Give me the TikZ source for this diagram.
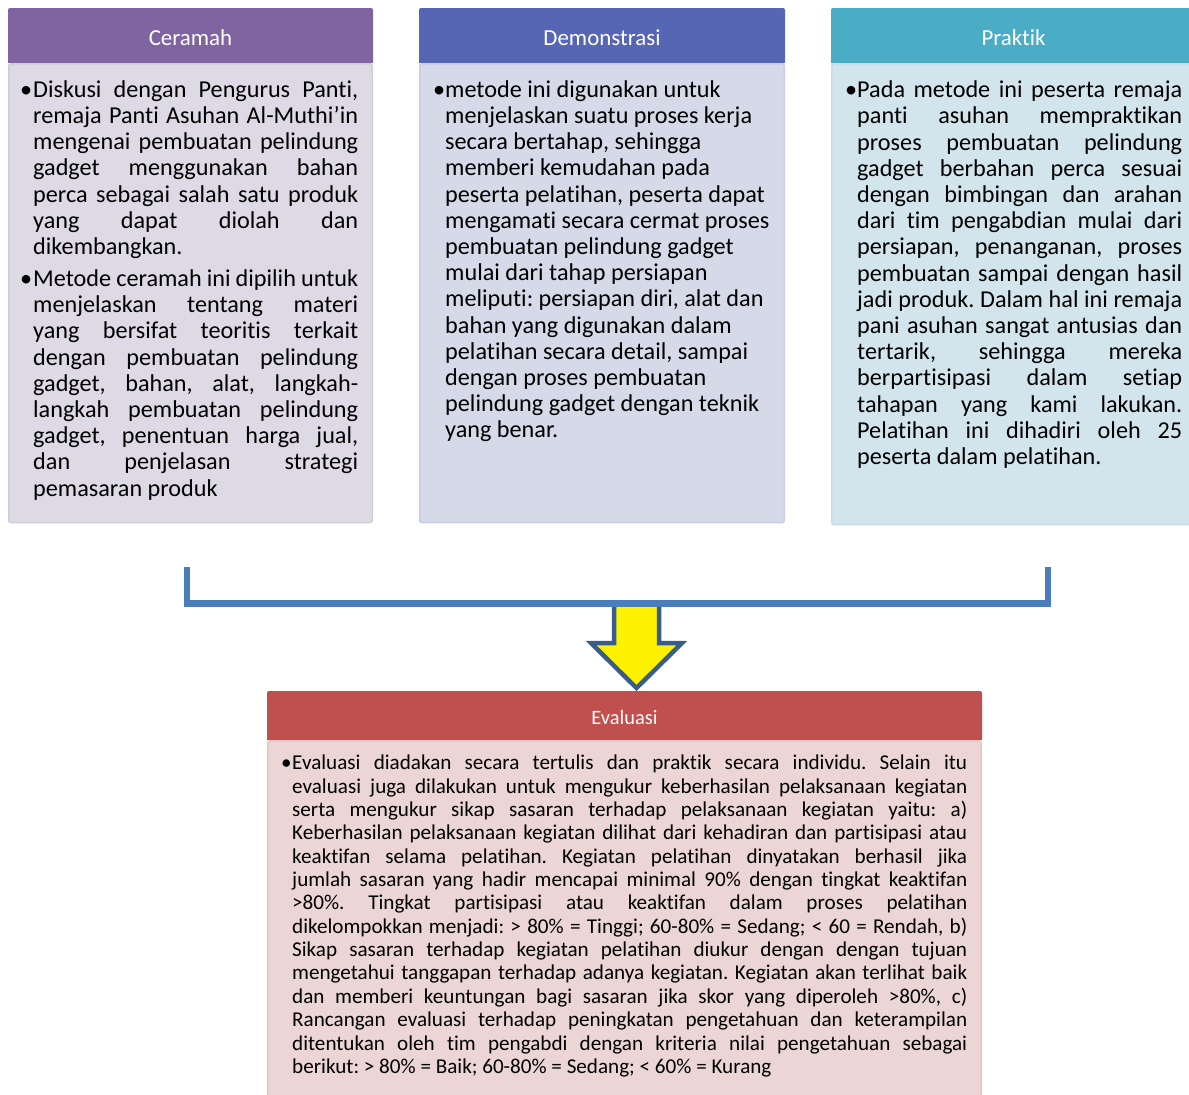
\documentclass[tikz,border=0pt]{standalone}
\usepackage{fontspec}
\setmainfont{Carlito}[Ligatures=NoCommon]
\frenchspacing
\definecolor{cerHead}{HTML}{8064A2}
\definecolor{cerBody}{HTML}{DEDAE5}
\definecolor{cerLine}{HTML}{D0CBD9}
\definecolor{demHead}{HTML}{5766B4}
\definecolor{demBody}{HTML}{D6D9E8}
\definecolor{demLine}{HTML}{C9CDE1}
\definecolor{praHead}{HTML}{4BACC6}
\definecolor{praBody}{HTML}{D3E5EC}
\definecolor{praLine}{HTML}{C6DCE5}
\definecolor{evaHead}{HTML}{C0504D}
\definecolor{evaBody}{HTML}{EBD5D5}
\definecolor{evaLine}{HTML}{E2C6C6}
\definecolor{brk}{HTML}{4A7EBB}
\definecolor{arrLine}{HTML}{385D8A}
\newlength\tw
\newlength\bw
\newcommand\bulJ[1]{\makebox[\bw][l]{•}\makebox[\tw][s]{#1}}
\newcommand\bulL[1]{\makebox[\bw][l]{•}#1}
\newcommand\lnJ[1]{\hspace*{\bw}\makebox[\tw][s]{#1}}
\newcommand\lnL[1]{\hspace*{\bw}#1}
\tikzset{
  headbox/.style={rounded corners=2bp, draw=none},
  bodybox/.style={rounded corners=2bp, line width=1.5bp},
  headtext/.style={text=white, inner sep=0, font=\fontsize{23}{26}\selectfont},
  bodytext/.style={anchor=north west, inner sep=0, align=left, text=black},
  bigtext/.style={bodytext, font=\fontsize{24.3}{26.3}\selectfont},
  smalltext/.style={bodytext, font=\fontsize{21.2}{23.45}\selectfont},
  widths/.style 2 args={execute at begin node={\global\tw=#1bp\global\bw=#2bp}},
  bracket/.style={draw=brk, line width=6.5bp},
  downarrow/.style={fill=yellow, draw=arrLine, line width=4.5bp, line join=miter},
}
\begin{document}
\begin{tikzpicture}[x=1bp, y=-1bp]
\useasboundingbox (0,0) rectangle (1189,1095);

% Ceramah
\fill[cerHead, headbox] (8,8) rectangle (373,63);
\draw[bodybox, fill=cerBody, draw=cerLine] (8.75,63.75) rectangle (372.25,522.5);
\fill[cerHead] (8,60) rectangle (373,63);
\node[headtext] (hCer) at (190.5,37.5) {Ceramah};
\node[bigtext, widths={325}{13}] (tCer) at (20,79) {\rule{0pt}{18bp}%
\bulJ{Diskusi dengan Pengurus Panti,}\\
\lnJ{remaja Panti Asuhan Al-Muthi’in}\\
\lnJ{mengenai pembuatan pelindung}\\
\lnJ{gadget menggunakan bahan}\\
\lnJ{perca sebagai salah satu produk}\\
\lnJ{yang dapat diolah dan}\\
\lnL{dikembangkan.}\\[5.8bp]
\bulJ{Metode ceramah ini dipilih untuk}\\
\lnJ{menjelaskan tentang materi}\\
\lnJ{yang bersifat teoritis terkait}\\
\lnJ{dengan pembuatan pelindung}\\
\lnJ{gadget, bahan, alat, langkah-}\\
\lnJ{langkah pembuatan pelindung}\\
\lnJ{gadget, penentuan harga jual,}\\
\lnJ{dan penjelasan strategi}\\
\lnL{pemasaran produk}};

% Demonstrasi
\fill[demHead, headbox] (419,8) rectangle (785,63);
\draw[bodybox, fill=demBody, draw=demLine] (419.75,63.75) rectangle (784.25,522.5);
\fill[demHead] (419,60) rectangle (785,63);
\node[headtext] (hDem) at (602,37.5) {Demonstrasi};
\node[bigtext, widths={320}{12}] (tDem) at (433,79) {\rule{0pt}{18bp}%
\bulL{metode ini digunakan untuk}\\
\lnL{menjelaskan suatu proses kerja}\\
\lnL{secara bertahap, sehingga}\\
\lnL{memberi kemudahan pada}\\
\lnL{peserta pelatihan, peserta dapat}\\
\lnL{mengamati secara cermat proses}\\
\lnL{pembuatan pelindung gadget}\\
\lnL{mulai dari tahap persiapan}\\
\lnL{meliputi: persiapan diri, alat dan}\\
\lnL{bahan yang digunakan dalam}\\
\lnL{pelatihan secara detail, sampai}\\
\lnL{dengan proses pembuatan}\\
\lnL{pelindung gadget dengan teknik}\\
\lnL{yang benar.}};

% Praktik
\fill[praHead, headbox] (831,8) rectangle (1192,63);
\draw[bodybox, fill=praBody, draw=praLine] (831.75,63.75) rectangle (1192,524.5);
\fill[praHead] (831,60) rectangle (1189,63);
\node[headtext] (hPra) at (1013.5,37.5) {Praktik};
\node[bigtext, widths={325}{12}] (tPra) at (845,79.5) {\rule{0pt}{18bp}%
\bulJ{Pada metode ini peserta remaja}\\
\lnJ{panti asuhan mempraktikan}\\
\lnJ{proses pembuatan pelindung}\\
\lnJ{gadget berbahan perca sesuai}\\
\lnJ{dengan bimbingan dan arahan}\\
\lnJ{dari tim pengabdian mulai dari}\\
\lnJ{persiapan, penanganan, proses}\\
\lnJ{pembuatan sampai dengan hasil}\\
\lnJ{jadi produk. Dalam hal ini remaja}\\
\lnJ{pani asuhan sangat antusias dan}\\
\lnJ{tertarik, sehingga mereka}\\
\lnJ{berpartisipasi dalam setiap}\\
\lnJ{tahapan yang kami lakukan.}\\
\lnJ{Pelatihan ini dihadiri oleh 25}\\
\lnL{peserta dalam pelatihan.}};

% connector bracket and arrow
\coordinate (bL) at (187,567);
\coordinate (bR) at (1048,567);
\draw[downarrow] (614,603) -- (614,643) -- (591,643) -- (636.5,688) -- (682,643) -- (659,643) -- (659,603);
\draw[bracket] (bL) -- (187,603.5) -- (1048,603.5) -- (bR);

% Evaluasi
\fill[evaHead, headbox] (267,691) rectangle (982,740);
\draw[bodybox, fill=evaBody, draw=evaLine] (267.75,740.75) rectangle (981.25,1100);
\fill[evaHead] (267,737) rectangle (982,740);
\node[headtext, font=\fontsize{20.5}{24}\selectfont] (hEva) at (624.5,717.5) {Evaluasi};
\node[smalltext, widths={675}{11}] (tEva) at (281,753.5) {\rule{0pt}{16bp}%
\bulJ{Evaluasi diadakan secara tertulis dan praktik secara individu. Selain itu}\\
\lnJ{evaluasi juga dilakukan untuk mengukur keberhasilan pelaksanaan kegiatan}\\
\lnJ{serta mengukur sikap sasaran terhadap pelaksanaan kegiatan yaitu: a)}\\
\lnJ{Keberhasilan pelaksanaan kegiatan dilihat dari kehadiran dan partisipasi atau}\\
\lnJ{keaktifan selama pelatihan. Kegiatan pelatihan dinyatakan berhasil jika}\\
\lnJ{jumlah sasaran yang hadir mencapai minimal 90\% dengan tingkat keaktifan}\\
\lnJ{>80\%. Tingkat partisipasi atau keaktifan dalam proses pelatihan}\\
\lnJ{dikelompokkan menjadi: > 80\% = Tinggi; 60-80\% = Sedang; < 60 = Rendah, b)}\\
\lnJ{Sikap sasaran terhadap kegiatan pelatihan diukur dengan dengan tujuan}\\
\lnJ{mengetahui tanggapan terhadap adanya kegiatan. Kegiatan akan terlihat baik}\\
\lnJ{dan memberi keuntungan bagi sasaran jika skor yang diperoleh >80\%, c)}\\
\lnJ{Rancangan evaluasi terhadap peningkatan pengetahuan dan keterampilan}\\
\lnJ{ditentukan oleh tim pengabdi dengan kriteria nilai pengetahuan sebagai}\\
\lnL{berikut: > 80\% = Baik; 60-80\% = Sedang; < 60\% = Kurang}};
\end{tikzpicture}
\end{document}
